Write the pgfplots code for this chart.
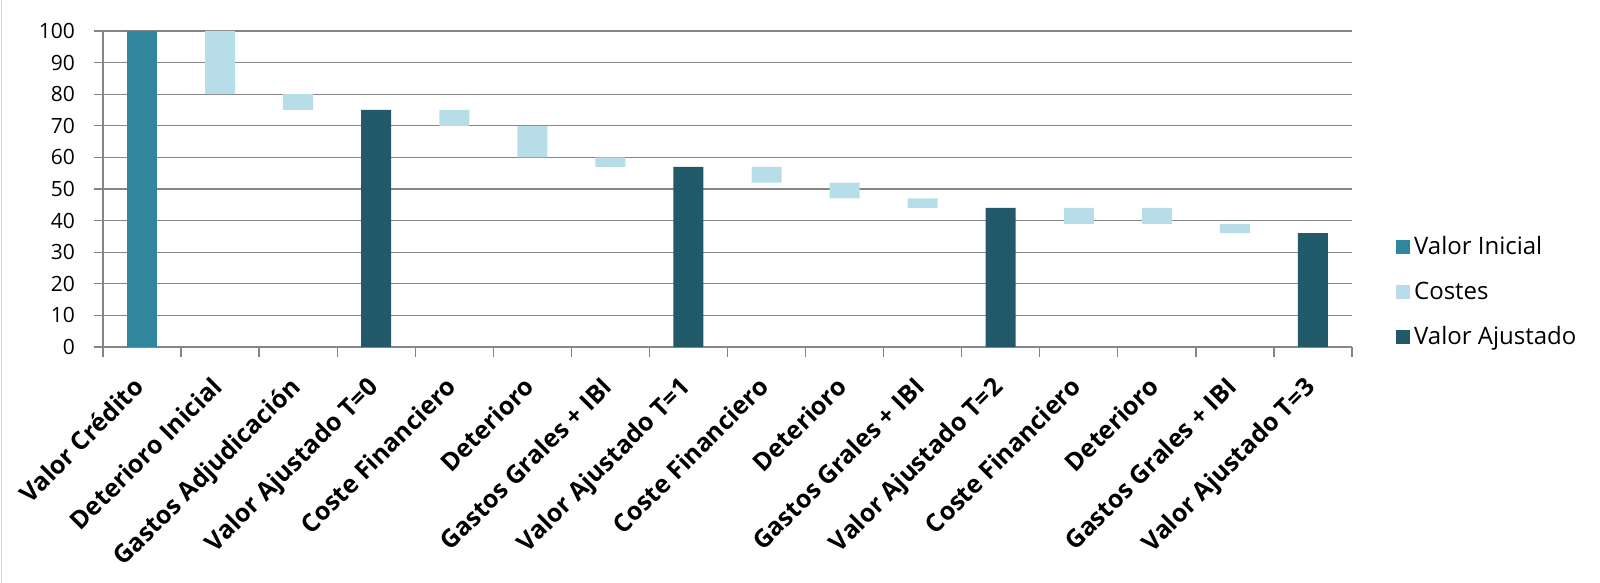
\documentclass[border=0pt]{standalone}
\usepackage{pgfplots}
\pgfplotsset{compat=1.18}
\usepackage{fontspec}
\setmainfont{Open Sans}
\definecolor{cIni}{HTML}{31859C}
\definecolor{cCost}{HTML}{B7DEE8}
\definecolor{cAdj}{HTML}{215968}
\definecolor{cGrid}{HTML}{858585}
\begin{document}
\begin{tikzpicture}
\useasboundingbox (0,0) rectangle (800pt,291.5pt);
\draw[gray!35, line width=0.6pt] (0.6pt,0) -- (0.6pt,291.5pt);
\begin{axis}[
  at={(51.5pt,118pt)}, anchor=south west,
  scale only axis,
  width=624.5pt, height=158pt,
  ybar stacked, bar width=15pt,
  xmin=-0.5, xmax=15.5,
  ymin=0, ymax=100,
  ytick={0,10,...,100},
  xtick={0,...,15},
  xticklabels={Valor Crédito,Deterioro Inicial,Gastos Adjudicación,Valor Ajustado T=0,Coste Financiero,Deterioro,Gastos Grales + IBI,Valor Ajustado T=1,Coste Financiero,Deterioro,Gastos Grales + IBI,Valor Ajustado T=2,Coste Financiero,Deterioro,Gastos Grales + IBI,Valor Ajustado T=3},
  minor xtick={-0.5,0.5,...,15.5},
  x tick style={draw=none},
  minor x tick style={draw=cGrid, line width=0.65pt},
  y tick style={draw=cGrid, line width=0.65pt},
  tick align=outside,
  major tick length=4.5pt, minor tick length=5pt,
  axis x line*=bottom, axis y line*=left,
  axis line style={draw=cGrid, line width=0.65pt, -},
  ymajorgrids, grid style={draw=cGrid, line width=0.65pt},
  /pgf/number format/assume math mode=true,
  yticklabel style={font=\fontsize{10.5}{12}\selectfont, xshift=-6pt},
  xticklabel style={font=\fontsize{12.5}{14}\selectfont\bfseries, xshift=-5pt, yshift=-8pt, rotate=45, anchor=north east, inner sep=1pt},
  legend style={at={(1.035,0.174)}, anchor=west, draw=none, fill=none,
    font=\fontsize{12}{14}\selectfont, row sep=8pt, inner sep=0pt},
  legend cell align=left,
  legend image code/.code={\fill[#1] (0pt,-3.5pt) rectangle (7pt,3.5pt);},
]
\addplot[draw=none, fill=none, forget plot] coordinates {(0,0) (1,80) (2,75) (3,0) (4,70) (5,60) (6,57) (7,0) (8,52) (9,47) (10,44) (11,0) (12,39) (13,39) (14,36) (15,0)};
\addplot[draw=none, fill=cIni] coordinates {(0,100) (1,0) (2,0) (3,0) (4,0) (5,0) (6,0) (7,0) (8,0) (9,0) (10,0) (11,0) (12,0) (13,0) (14,0) (15,0)};
\addplot[draw=none, fill=cCost] coordinates {(0,0) (1,20) (2,5) (3,0) (4,5) (5,10) (6,3) (7,0) (8,5) (9,5) (10,3) (11,0) (12,5) (13,5) (14,3) (15,0)};
\addplot[draw=none, fill=cAdj] coordinates {(0,0) (1,0) (2,0) (3,75) (4,0) (5,0) (6,0) (7,57) (8,0) (9,0) (10,0) (11,44) (12,0) (13,0) (14,0) (15,36)};
\legend{Valor Inicial,Costes,Valor Ajustado}
\end{axis}
\end{tikzpicture}
\end{document}
